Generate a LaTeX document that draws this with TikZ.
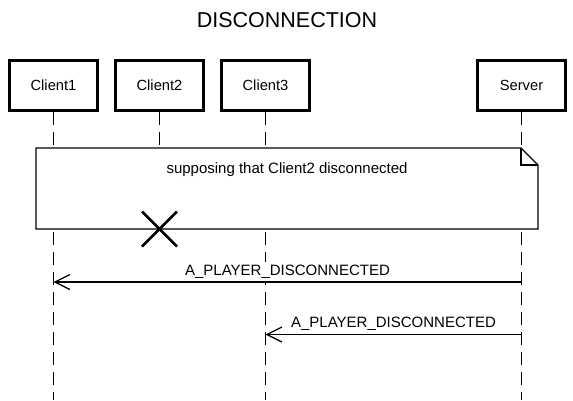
\documentclass[tikz,border=0pt]{standalone}
\usepackage{fontspec}
\setmainfont{Liberation Sans}
\usetikzlibrary{arrows.meta}
\begin{document}
\begin{tikzpicture}[x=1pt,y=-1pt,
  actor/.style={draw=black,line width=3pt,fill=white,minimum width=88pt,minimum height=50pt,inner sep=0pt,font=\fontsize{14.7}{17}\selectfont},
  lifeline/.style={draw=black,line width=1.5pt,dash pattern=on 13pt off 7pt},
  notebox/.style={draw=black,line width=1.4pt,fill=white},
  notetext/.style={font=\fontsize{15}{18}\selectfont,inner sep=0pt},
  msg/.style={draw=black,line width=1.3pt,-{Straight Barb[length=15pt,width=15pt,line width=1.3pt]}},
  lbl/.style={font=\fontsize{15}{18}\selectfont,fill=white,inner xsep=2pt,inner ysep=2.5pt,anchor=base,yshift=6.7pt},
  cross/.style={draw=black,line width=2.6pt},
  titlestyle/.style={font=\fontsize{21.5}{25}\selectfont,inner sep=0pt}]
\useasboundingbox (0,0) rectangle (573,400);
\fill[white] (0,0) rectangle (573,400);
% title
\node[titlestyle] (title) at (287,20.5) {DISCONNECTION};
% actors
\node[actor] (c1) at (53.5,85) {Client1};
\node[actor] (c2) at (159.5,85) {Client2};
\node[actor] (c3) at (265.5,85) {Client3};
\node[actor] (srv) at (521.5,85) {Server};
% lifeline ends
\coordinate (c1end) at (53.5,400);
\coordinate (c2end) at (159.5,229);
\coordinate (c3end) at (265.5,400);
\coordinate (srvend) at (521.5,400);
\draw[lifeline] (c1.south) -- (c1end);
\draw[lifeline] (c2.south) -- (c2end);
\draw[lifeline] (c3.south) -- (c3end);
\draw[lifeline] (srv.south) -- (srvend);
% note
\path[notebox] (36,148) -- (521,148) -- (538,165) -- (538,229) -- (36,229) -- cycle;
\draw[black,line width=1.4pt] (521,148) -- (521,165) -- (538,165);
\node[notetext] (note) at (287,170) {supposing that Client2 disconnected};
% destruction cross
\coordinate (xa) at (142,211.5);
\coordinate (xb) at (177,246.5);
\coordinate (xc) at (142,246.5);
\coordinate (xd) at (177,211.5);
\draw[cross] (xa) -- (xb);
\draw[cross] (xc) -- (xd);
% messages
\coordinate (m1s) at (521.5,282);
\coordinate (m1e) at (53.5,282);
\coordinate (m2s) at (521.5,334.5);
\coordinate (m2e) at (265.5,334.5);
\draw[msg] (m1s) -- node[lbl] (l1) {A\_PLAYER\_DISCONNECTED} (m1e);
\draw[msg] (m2s) -- node[lbl] (l2) {A\_PLAYER\_DISCONNECTED} (m2e);
\end{tikzpicture}
\end{document}
